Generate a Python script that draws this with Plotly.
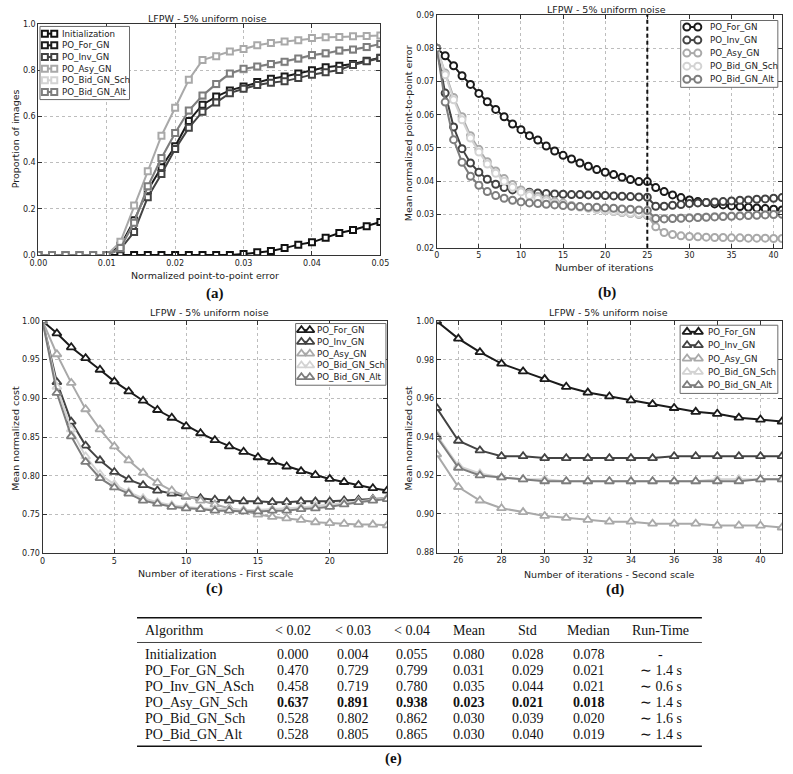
import plotly.graph_objects as go

W, H = 793, 774

# ---------------- data ----------------
# (a) cumulative error distribution
err_thresholds = [0.000, 0.002, 0.004, 0.006, 0.008, 0.010, 0.012, 0.014, 0.016,
                  0.018, 0.020, 0.022, 0.024, 0.026, 0.028, 0.030, 0.032, 0.034,
                  0.036, 0.038, 0.040, 0.042, 0.044, 0.046, 0.048, 0.050]
ced_init = [0, 0, 0, 0, 0, 0, 0, 0, 0, 0, 0, 0, 0, 0, 0, 0.004, 0.012, 0.018,
            0.030, 0.045, 0.055, 0.075, 0.095, 0.108, 0.124, 0.143]
ced_for = [0, 0, 0, 0, 0, 0, 0.040, 0.150, 0.280, 0.380, 0.470, 0.580, 0.650, 0.685,
           0.712, 0.729, 0.748, 0.762, 0.772, 0.785, 0.799, 0.812, 0.818, 0.826, 0.840, 0.853]
ced_inv = [0, 0, 0, 0, 0, 0, 0.025, 0.100, 0.250, 0.350, 0.458, 0.550, 0.620, 0.660,
           0.700, 0.719, 0.735, 0.745, 0.752, 0.765, 0.780, 0.790, 0.800, 0.822, 0.838, 0.852]
ced_asy = [0, 0, 0, 0, 0, 0, 0.057, 0.214, 0.362, 0.516, 0.637, 0.758, 0.843, 0.860,
           0.880, 0.891, 0.907, 0.917, 0.923, 0.929, 0.938, 0.942, 0.943, 0.946, 0.947, 0.949]
ced_bid_sch = [0, 0, 0, 0, 0, 0, 0.030, 0.140, 0.295, 0.418, 0.528, 0.623, 0.688, 0.738,
               0.783, 0.802, 0.813, 0.824, 0.834, 0.848, 0.862, 0.870, 0.882, 0.887, 0.898, 0.911]
ced_bid_alt = [0, 0, 0, 0, 0, 0, 0.030, 0.140, 0.297, 0.420, 0.528, 0.625, 0.690, 0.740,
               0.785, 0.805, 0.815, 0.826, 0.836, 0.850, 0.865, 0.872, 0.884, 0.889, 0.900, 0.913]

# (b) mean error vs iterations
iters_all = [0, 1, 2, 3, 4, 5, 6, 7, 8, 9, 10, 11, 12, 13, 14, 15, 16, 17, 18, 19, 20,
             21, 22, 23, 24, 25, 26, 27, 28, 29, 30, 31, 32, 33, 34, 35, 36, 37, 38, 39, 40, 41]
err_for = [0.0800, 0.0777, 0.0747, 0.0717, 0.0691, 0.0664, 0.0639, 0.0616, 0.0594, 0.0572,
           0.0555, 0.0537, 0.0524, 0.0506, 0.0491, 0.0478, 0.0467, 0.0455, 0.0445, 0.0435,
           0.0427, 0.0420, 0.0412, 0.0405, 0.0399, 0.0399, 0.0381, 0.0369, 0.0359, 0.0351,
           0.0344, 0.0339, 0.0336, 0.0332, 0.0329, 0.0326, 0.0324, 0.0322, 0.0320, 0.0318,
           0.0316, 0.0314]
err_inv = [0.0800, 0.0665, 0.0563, 0.0498, 0.0455, 0.0427, 0.0406, 0.0391, 0.0381, 0.0374,
           0.0371, 0.0367, 0.0365, 0.0363, 0.0362, 0.0361, 0.0360, 0.0360, 0.0359, 0.0358,
           0.0357, 0.0356, 0.0355, 0.0354, 0.0353, 0.0352, 0.0325, 0.0325, 0.0328, 0.0330,
           0.0333, 0.0335, 0.0336, 0.0338, 0.0339, 0.0341, 0.0343, 0.0344, 0.0346, 0.0347,
           0.0349, 0.0351]
err_asy = [0.0800, 0.0725, 0.0652, 0.0594, 0.0537, 0.0496, 0.0459, 0.0431, 0.0408, 0.0390,
           0.0374, 0.0364, 0.0354, 0.0347, 0.0339, 0.0334, 0.0327, 0.0324, 0.0320, 0.0316,
           0.0312, 0.0309, 0.0306, 0.0303, 0.0300, 0.0297, 0.0263, 0.0246, 0.0240, 0.0236,
           0.0234, 0.0233, 0.0232, 0.0231, 0.0231, 0.0230, 0.0230, 0.0229, 0.0229, 0.0229,
           0.0228, 0.0228]
err_bid_sch = [0.0800, 0.0720, 0.0645, 0.0585, 0.0530, 0.0488, 0.0452, 0.0424, 0.0400, 0.0382,
               0.0368, 0.0357, 0.0348, 0.0341, 0.0335, 0.0330, 0.0326, 0.0322, 0.0319, 0.0316,
               0.0313, 0.0310, 0.0308, 0.0305, 0.0303, 0.0301, 0.0289, 0.0288, 0.0289, 0.0290,
               0.0291, 0.0292, 0.0293, 0.0294, 0.0295, 0.0296, 0.0297, 0.0298, 0.0299, 0.0300,
               0.0301, 0.0302]
err_bid_alt = [0.0800, 0.0638, 0.0525, 0.0457, 0.0415, 0.0388, 0.0369, 0.0357, 0.0349, 0.0343,
               0.0338, 0.0335, 0.0333, 0.0331, 0.0329, 0.0327, 0.0325, 0.0324, 0.0322, 0.0322,
               0.0320, 0.0319, 0.0317, 0.0316, 0.0314, 0.0312, 0.0288, 0.0287, 0.0288, 0.0289,
               0.0290, 0.0291, 0.0292, 0.0293, 0.0294, 0.0295, 0.0296, 0.0297, 0.0298, 0.0299,
               0.0300, 0.0301]

# (c) mean normalized cost, first scale
iters_first = [0, 1, 2, 3, 4, 5, 6, 7, 8, 9, 10, 11, 12, 13, 14, 15, 16, 17, 18, 19, 20,
               21, 22, 23, 24]
cost1_for = [1.000, 0.984, 0.966, 0.952, 0.937, 0.922, 0.909, 0.897, 0.885, 0.875, 0.864,
             0.855, 0.846, 0.838, 0.831, 0.824, 0.818, 0.812, 0.806, 0.801, 0.796, 0.792,
             0.788, 0.784, 0.781]
cost1_inv = [1.000, 0.921, 0.870, 0.839, 0.820, 0.805, 0.795, 0.788, 0.781, 0.777, 0.773,
             0.771, 0.769, 0.768, 0.767, 0.767, 0.766, 0.766, 0.767, 0.767, 0.767, 0.768,
             0.769, 0.770, 0.771]
cost1_asy = [1.000, 0.957, 0.920, 0.886, 0.860, 0.838, 0.820, 0.804, 0.791, 0.781, 0.774,
             0.768, 0.763, 0.758, 0.755, 0.750, 0.747, 0.745, 0.743, 0.740, 0.739, 0.738,
             0.737, 0.737, 0.736]
cost1_bid_sch = [1.000, 0.915, 0.860, 0.825, 0.802, 0.789, 0.779, 0.771, 0.766, 0.762, 0.760,
                 0.758, 0.757, 0.757, 0.756, 0.756, 0.757, 0.758, 0.759, 0.761, 0.763, 0.765,
                 0.767, 0.769, 0.771]
cost1_bid_alt = [1.000, 0.907, 0.851, 0.818, 0.797, 0.785, 0.777, 0.768, 0.764, 0.760, 0.758,
                 0.757, 0.755, 0.755, 0.754, 0.754, 0.755, 0.755, 0.757, 0.758, 0.760, 0.763,
                 0.766, 0.768, 0.770]

# (d) mean normalized cost, second scale
iters_second = [25, 26, 27, 28, 29, 30, 31, 32, 33, 34, 35, 36, 37, 38, 39, 40, 41]
cost2_for = [1.000, 0.991, 0.984, 0.978, 0.974, 0.970, 0.966, 0.963, 0.961, 0.959, 0.957,
             0.955, 0.953, 0.952, 0.950, 0.949, 0.948]
cost2_inv = [0.955, 0.938, 0.933, 0.930, 0.930, 0.929, 0.929, 0.929, 0.929, 0.929, 0.929,
             0.930, 0.930, 0.930, 0.930, 0.930, 0.930]
cost2_asy = [0.931, 0.914, 0.907, 0.903, 0.901, 0.899, 0.898, 0.897, 0.896, 0.896, 0.895,
             0.895, 0.895, 0.894, 0.894, 0.894, 0.893]
cost2_bid_sch = [0.941, 0.925, 0.921, 0.919, 0.918, 0.918, 0.917, 0.917, 0.917, 0.917, 0.917,
                 0.917, 0.917, 0.918, 0.918, 0.918, 0.918]
cost2_bid_alt = [0.940, 0.924, 0.920, 0.919, 0.918, 0.917, 0.917, 0.917, 0.917, 0.917, 0.917,
                 0.917, 0.917, 0.917, 0.917, 0.918, 0.918]

# (e) table
table_headers = ["Algorithm", "< 0.02", "< 0.03", "< 0.04", "Mean", "Std", "Median", "Run-Time"]
table_algorithms = ["Initialization", "PO_For_GN_Sch", "PO_Inv_GN_ASch", "PO_Asy_GN_Sch",
                    "PO_Bid_GN_Sch", "PO_Bid_GN_Alt"]
table_lt002 = [0.000, 0.470, 0.458, 0.637, 0.528, 0.528]
table_lt003 = [0.004, 0.729, 0.719, 0.891, 0.802, 0.805]
table_lt004 = [0.055, 0.799, 0.780, 0.938, 0.862, 0.865]
table_mean = [0.080, 0.031, 0.035, 0.023, 0.030, 0.030]
table_std = [0.028, 0.029, 0.044, 0.021, 0.039, 0.040]
table_median = [0.078, 0.021, 0.021, 0.018, 0.020, 0.019]
table_runtime = ["-", "∼ 1.4 s", "∼ 0.6 s", "∼ 1.4 s", "∼ 1.6 s", "∼ 1.4 s"]
table_best_row = "PO_Asy_GN_Sch"

ced_names = ["Initialization", "PO_For_GN", "PO_Inv_GN", "PO_Asy_GN", "PO_Bid_GN_Sch", "PO_Bid_GN_Alt"]
algo_names = ["PO_For_GN", "PO_Inv_GN", "PO_Asy_GN", "PO_Bid_GN_Sch", "PO_Bid_GN_Alt"]
chart_title = "LFPW - 5% uniform noise"

# ---------------- styles ----------------
COL = {"Initialization": "#111111", "PO_For_GN": "#1b1b1b", "PO_Inv_GN": "#434343",
       "PO_Asy_GN": "#a9a9a9", "PO_Bid_GN_Sch": "#d3d3d3", "PO_Bid_GN_Alt": "#7d7d7d"}
SANS = "DejaVu Sans"
SERIF = "Liberation Serif"

fig = go.Figure()


def px(xp):
    return xp / W


def py(yp):
    return 1 - yp / H


def marker_style(name, symbol):
    if symbol == "square":
        return dict(symbol="square", size=6, color="white", line=dict(color=COL[name], width=2))
    if symbol == "circle":
        return dict(symbol="circle", size=7, color="white", line=dict(color=COL[name], width=2))
    return dict(symbol="triangle-up", size=8, color="white", line=dict(color=COL[name], width=1.8))


def add_series(x, y, name, xa, ya, symbol):
    fig.add_trace(go.Scatter(x=x, y=y, name=name, mode="lines+markers",
                             line=dict(color=COL[name], width=2),
                             marker=marker_style(name, symbol),
                             xaxis=xa, yaxis=ya, showlegend=False, cliponaxis=True))


# (a)
for nm, ys in zip(ced_names, [ced_init, ced_for, ced_inv, ced_asy, ced_bid_sch, ced_bid_alt]):
    add_series(err_thresholds, ys, nm, "x", "y", "square")
# (b)
for nm, ys in zip(algo_names, [err_for, err_inv, err_asy, err_bid_sch, err_bid_alt]):
    add_series(iters_all, ys, nm, "x2", "y2", "circle")
# (c)
for nm, ys in zip(algo_names, [cost1_for, cost1_inv, cost1_asy, cost1_bid_sch, cost1_bid_alt]):
    add_series(iters_first, ys, nm, "x3", "y3", "triangle")
# (d)
for nm, ys in zip(algo_names, [cost2_for, cost2_inv, cost2_asy, cost2_bid_sch, cost2_bid_alt]):
    add_series(iters_second, ys, nm, "x4", "y4", "triangle")

annotations = []


def text(x, y, s, size, family=SANS, xanchor="center", angle=0, color="#222"):
    annotations.append(dict(x=px(x), y=py(y), xref="paper", yref="paper", text=s,
                            showarrow=False, xanchor=xanchor, yanchor="middle",
                            textangle=angle, font=dict(family=family, size=size, color=color)))


# ---- custom legends (pixel overlay axis) ----
def legend(box, names, ys, hx, tx, symbol):
    x0, x1, y0, y1 = box
    fig.add_trace(go.Scatter(x=[x0, x1, x1, x0, x0], y=[y0, y0, y1, y1, y0], mode="lines",
                             fill="toself", fillcolor="white", line=dict(color="#6a6a6a", width=1),
                             xaxis="x5", yaxis="y5", showlegend=False, hoverinfo="skip",
                             cliponaxis=False))
    for nm, yy in zip(names, ys):
        fig.add_trace(go.Scatter(x=list(hx), y=[yy, yy], mode="lines+markers",
                                 line=dict(color=COL[nm], width=2), marker=marker_style(nm, symbol),
                                 xaxis="x5", yaxis="y5", showlegend=False, hoverinfo="skip",
                                 cliponaxis=False))
        text(tx, yy, nm, 8.7, xanchor="left")


legend((31.7, 123.3, 22.7, 96.7), ced_names, [30, 41.8, 53.6, 65.4, 77.2, 89.0],
       (36.7, 46.3), 52.3, "square")
legend((687.3, 786.7, 16.7, 84.3), algo_names, [23.3, 36.5, 49.7, 62.9, 76.1],
       (693.6, 704.8), 715, "circle")
legend((293.3, 385.7, 323.3, 385.7), algo_names, [330, 341.9, 353.8, 365.7, 377.6],
       (299.2, 307.8), 313.3, "triangle")
legend((686.7, 786.7, 325, 394), algo_names, [331.7, 345.2, 358.7, 372.2, 385.7],
       (693.8, 705.5), 713.3, "triangle")

# ---- titles and labels ----
for (cx, cy) in [(203, 15), (611, 6), (205, 312), (613, 312)]:
    text(cx, cy, chart_title, 9.5)
text(201, 274.3, "Normalized point-to-point error", 9.5)
text(609, 266.7, "Number of iterations", 9.5)
text(212, 576, "Number of iterations - First scale", 9.5)
text(614, 577.3, "Number of iterations - Second scale", 9.5)
text(7, 136, "Proportion of images", 9.5, angle=-90)
text(409, 131, "Mean normalized point-to-point error", 9.5, angle=-90)
text(7, 439, "Mean normalized cost", 9.5, angle=-90)
text(409, 439, "Mean normalized cost", 9.5, angle=-90)
for lab, (cx, cy) in zip(["(a)", "(b)", "(c)", "(d)", "(e)"],
                         [(210.5, 292.5), (612, 292), (210.5, 591), (620, 592), (393, 763)]):
    text(cx, cy, "<b>" + lab + "</b>", 15, family=SERIF, color="#111")

# ---- table ----
col_x = [137, 290.5, 351.5, 412, 471, 531, 593, 667]
row_y = [657.8, 674.1, 690.4, 706.7, 723.0, 739.3]
TS = 14
for j, hd in enumerate(table_headers):
    text(col_x[j], 633.5, hd, TS, family=SERIF, xanchor="left" if j == 0 else "center", color="#111")
for i, alg in enumerate(table_algorithms):
    text(col_x[0], row_y[i], alg, TS, family=SERIF, xanchor="left", color="#111")
    vals = [table_lt002[i], table_lt003[i], table_lt004[i], table_mean[i], table_std[i], table_median[i]]
    for j, v in enumerate(vals):
        s = f"{v:.3f}"
        if alg == table_best_row:
            s = "<b>" + s + "</b>"
        text(col_x[j + 1], row_y[i], s, TS, family=SERIF, color="#111")
    text(col_x[7], row_y[i], table_runtime[i], TS, family=SERIF, color="#111")

shapes = []
for yy, lw in [(621, 1.4), (646, 0.8), (751, 1.4)]:
    shapes.append(dict(type="line", xref="paper", yref="paper", x0=px(131), x1=px(709),
                       y0=py(yy), y1=py(yy), line=dict(color="#111", width=lw)))
# dashed scale change marker in (b)
shapes.append(dict(type="line", xref="x2", yref="y2 domain", x0=25, x1=25, y0=0, y1=1,
                   line=dict(color="#111", width=2, dash="4px,3px"), layer="above"))


def axis(domain, rng, anchor, **kw):
    d = dict(domain=domain, range=rng, anchor=anchor, showline=True, linecolor="#333",
             linewidth=1, mirror="ticks", ticks="inside", ticklen=4, tickwidth=1,
             tickcolor="#333", showgrid=True, gridcolor="#bdbdbd", griddash="dot",
             gridwidth=1, zeroline=False,
             tickfont=dict(family=SANS, size=8, color="#222"))
    d.update(kw)
    return d


fig.update_layout(
    width=W, height=H, margin=dict(l=0, r=0, t=0, b=0),
    paper_bgcolor="white", plot_bgcolor="rgba(0,0,0,0)", showlegend=False,
    font=dict(family=SANS, color="#222"),
    xaxis=axis([px(30), px(380)], [0, 0.05], "y", dtick=0.01, tickformat=".2f"),
    yaxis=axis([py(254), py(20)], [0, 1.0], "x", dtick=0.2, tickformat=".1f"),
    xaxis2=axis([px(437.7), px(791)], [0, 41], "y2", dtick=5),
    yaxis2=axis([py(246.7), py(11)], [0.02, 0.09], "x2", dtick=0.01, tickformat=".2f"),
    xaxis3=axis([px(34.3), px(387)], [0, 24], "y3", dtick=5),
    yaxis3=axis([py(555.7), py(320.7)], [0.70, 1.00], "x3", dtick=0.05, tickformat=".2f"),
    xaxis4=axis([px(437.7), px(791)], [25, 41], "y4", tick0=26, dtick=2),
    yaxis4=axis([py(555), py(321)], [0.88, 1.00], "x4", dtick=0.02, tickformat=".2f"),
    xaxis5=dict(domain=[0, 1], range=[0, W], anchor="y5", visible=False, fixedrange=True),
    yaxis5=dict(domain=[0, 1], range=[H, 0], anchor="x5", visible=False, fixedrange=True),
    annotations=annotations, shapes=shapes,
)

# remove the browser's default 8px page margin so the figure sits at the window origin
fig.write_html("out.html",
               config={"displayModeBar": False, "staticPlot": True},
               post_script="document.body.style.margin='0';document.body.style.overflow='hidden';")
